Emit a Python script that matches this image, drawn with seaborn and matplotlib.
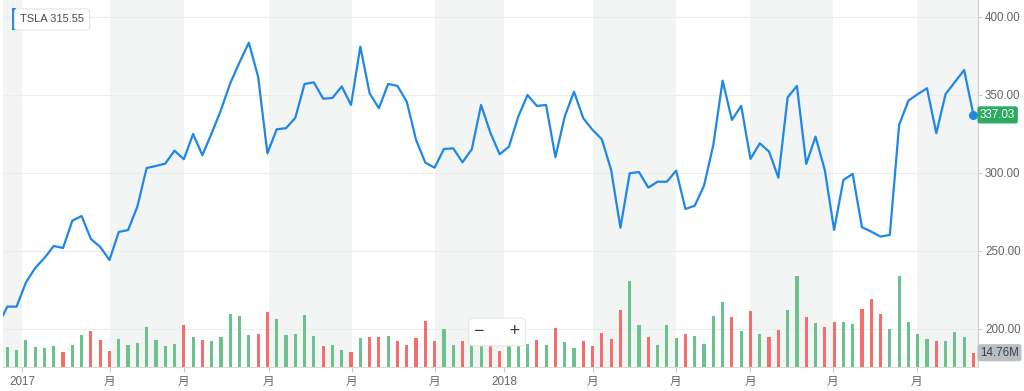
import matplotlib
matplotlib.use("Agg")
import matplotlib.pyplot as plt
import matplotlib.transforms as mtransforms
from matplotlib.lines import Line2D
from matplotlib.patches import Rectangle
import pandas as pd
import seaborn as sns

# ---------------------------------------------------------------------------
# Data — weekly TSLA closes / volume (first week sits just off the left edge)
# ---------------------------------------------------------------------------
week = list(range(-1, 105))
close = [
    202.0,
    214.1, 214.1, 229.5, 238.9, 245.3, 253.0, 251.7, 269.2, 272.2, 257.5,
    252.4, 244.0, 262.0, 263.2, 278.2, 303.0, 304.3, 305.8, 314.1, 308.6,
    324.8, 311.2, 325.3, 340.2, 357.3, 370.8, 383.3, 361.5, 312.4, 327.8,
    328.5, 335.1, 356.9, 357.9, 347.4, 347.9, 355.3, 343.4, 380.8, 350.9,
    341.3, 356.9, 355.6, 345.5, 321.0, 306.4, 303.2, 315.2, 315.6, 306.7,
    315.0, 343.4, 325.6, 311.8, 316.7, 335.9, 349.8, 342.8, 343.4, 309.9,
    335.9, 351.9, 334.9, 327.4, 321.4, 301.7, 264.7, 299.6, 300.4, 290.4,
    294.2, 294.2, 301.3, 276.7, 278.8, 291.7, 317.8, 359.0, 333.8, 342.8,
    308.8, 318.8, 313.5, 296.8, 348.3, 355.6, 305.6, 323.1, 301.7, 263.3,
    295.3, 299.2, 265.0, 262.2, 259.0, 260.1, 330.6, 346.2, 350.3, 354.1,
    325.3, 350.4, 358.1, 365.8, 337.03,
]
volume_m = [
    20.0,
    20.3, 17.5, 28.2, 20.3, 19.6, 22.0, 15.8, 23.0, 32.7, 37.2,
    28.2, 16.9, 29.2, 23.0, 24.8, 41.3, 28.2, 21.3, 24.1, 43.3,
    31.0, 28.2, 26.5, 31.0, 54.4, 52.3, 32.7, 33.7, 56.8, 49.5,
    32.7, 33.7, 53.3, 31.6, 21.3, 23.0, 17.5, 15.1, 29.9, 31.0,
    31.0, 31.6, 26.5, 23.0, 29.9, 47.1, 26.5, 38.9, 23.0, 26.5,
    26.5, 27.0, 26.0, 16.9, 23.0, 26.5, 24.1, 28.2, 23.0, 39.9,
    25.8, 19.6, 26.5, 22.0, 34.7, 29.2, 58.5, 88.4, 43.3, 31.0,
    23.0, 43.3, 29.9, 34.1, 31.6, 24.1, 52.3, 67.4, 51.3, 37.2,
    57.4, 33.7, 31.0, 38.2, 59.2, 94.2, 51.3, 45.4, 40.9, 46.1,
    46.8, 44.7, 59.5, 69.8, 54.4, 38.9, 94.2, 46.8, 33.7, 29.2,
    26.8, 26.8, 36.5, 31.0, 14.76,
]
tick_pos = [1.58, 11.05, 19.02, 28.17, 37.1, 46.04, 53.47, 63.0, 71.98, 79.95, 88.88, 97.92]
tick_labels = ["2017", "月", "月", "月", "月", "月", "2018", "月", "月", "月", "月", "月"]
price_ticks = [200, 250, 300, 350, 400]
ticker = "TSLA"
hover_price = 315.55

BLUE = "#1f87e8"
GREEN = "#6cc28c"
RED = "#f56e6e"
BAND = "#f3f4f4"
LABEL = "#62666a"

df = pd.DataFrame({"week": week, "close": close, "volume": volume_m})
df["dir"] = (df["close"] >= df["close"].shift(1).fillna(df["close"])).map({True: "up", False: "down"})

plt.rcParams["font.family"] = ["Liberation Sans", "Noto Sans CJK SC", "DejaVu Sans"]

W, H = 1024, 391
fig = plt.figure(figsize=(W / 100, H / 100), dpi=100)
ax_vol = fig.add_axes([3.3 / W, 24 / H, (978 - 3.3) / W, 367 / H])
ax_price = ax_vol.twinx()

x_lo, x_hi = -0.43, 104.49

# alternating shaded bands between the date ticks
edges = [x_lo] + tick_pos + [x_hi]
for i in range(0, len(edges) - 1, 2):
    ax_vol.axvspan(edges[i], edges[i + 1], color=BAND, lw=0, zorder=0)

# price gridlines, kept behind the volume bars
grid_tr = mtransforms.blended_transform_factory(ax_vol.transAxes, ax_price.transData)
for p in price_ticks:
    ax_vol.plot([0, 1], [p, p], transform=grid_tr, color="#ececec", lw=0.8, zorder=0.5)

# volume bars
sns.barplot(
    data=df, x="week", y="volume", hue="dir", hue_order=["up", "down"],
    palette={"up": GREEN, "down": RED}, native_scale=True, dodge=False,
    width=0.34, errorbar=None, legend=False, linewidth=0, saturation=1, ax=ax_vol,
)
ax_vol.set_ylim(0, 379)
ax_vol.set_xlim(x_lo, x_hi)
ax_vol.set_xticks(tick_pos, tick_labels)
ax_vol.set_yticks([])
ax_vol.set_xlabel("")
ax_vol.set_ylabel("")
ax_vol.tick_params(axis="x", length=3.3, color="#c9c9c9", labelsize=8.4,
                   labelcolor=LABEL, pad=3)
for side in ["top", "left", "right"]:
    ax_vol.spines[side].set_visible(False)
ax_vol.spines["bottom"].set_color("#d9d9d9")

# price line
sns.lineplot(data=df, x="week", y="close", color=BLUE, linewidth=1.6, ax=ax_price)
ax_price.plot(df["week"].iloc[-1], df["close"].iloc[-1], "o", color=BLUE, ms=5.5, zorder=5)
ax_price.set_ylim(175.4, 410.7)
ax_price.set_xlim(x_lo, x_hi)
ax_price.set_yticks(price_ticks, [f"{p:.2f}" for p in price_ticks])
ax_price.set_xlabel("")
ax_price.set_ylabel("")
ax_price.grid(False)
ax_price.tick_params(axis="y", length=3, color="#d0d0d0", labelsize=8.4,
                     labelcolor=LABEL, pad=2)
for side in ["top", "left", "bottom"]:
    ax_price.spines[side].set_visible(False)
ax_price.spines["right"].set_color("#cfcfcf")

# value tags on the right axis
tr_price = mtransforms.blended_transform_factory(fig.transFigure, ax_price.transData)
fig.text(980 / W, close[-1], f"{close[-1]:.2f}", transform=tr_price, ha="left", va="center",
         fontsize=8.4, color="white",
         bbox=dict(boxstyle="round,pad=0.22,rounding_size=0.2", fc="#2aab5f", ec="none"))
tr_vol = mtransforms.blended_transform_factory(fig.transFigure, ax_vol.transData)
fig.text(980 / W, volume_m[-1], f"{volume_m[-1]:.2f}M", transform=tr_vol, ha="left", va="center",
         fontsize=8.4, color="#3c4043",
         bbox=dict(boxstyle="round,pad=0.22,rounding_size=0.2", fc="#babec3", ec="none"))

# hover label, top left
fig.text(20 / W, 1 - 19.5 / H, f"{ticker} {hover_price:.2f}", ha="left", va="center",
         fontsize=8, color="#4a4a4a",
         bbox=dict(boxstyle="round,pad=0.5,rounding_size=0.3", fc="white", ec="#e4e4e4", lw=0.8))
fig.add_artist(Rectangle((12 / W, 1 - 29.5 / H), 3.5 / W, 21 / H,
                         transform=fig.transFigure, color=BLUE, lw=0))

# zoom control
fig.text(497 / W, 1 - 332 / H, "−     +", ha="center", va="center", fontsize=13,
         color="#3a3a3a",
         bbox=dict(boxstyle="round,pad=0.3,rounding_size=0.3", fc="white", ec="#e6e6e6", lw=0.8))
fig.add_artist(Line2D([499 / W, 499 / W], [1 - 325 / H, 1 - 339 / H],
                      transform=fig.transFigure, color="#d6d6d6", lw=0.8))

fig.savefig("out.png", dpi=100)
